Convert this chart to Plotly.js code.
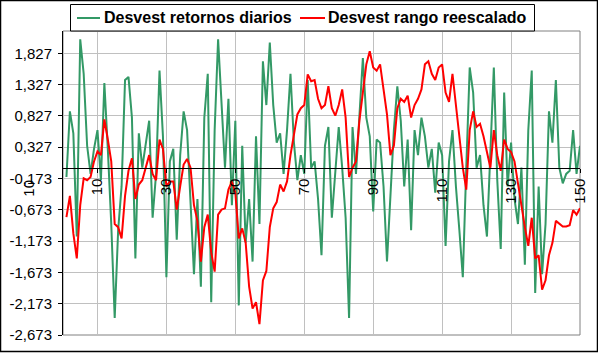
<!DOCTYPE html>
<html>
<head>
<meta charset="utf-8">
<script src="https://cdn.plot.ly/plotly-3.0.1.min.js"></script>
<style>
html,body{margin:0;padding:0;background:#fff;}
#chart{width:598px;height:353px;}
</style>
</head>
<body>
<div id="chart"></div>
<script>
// Series names
const seriesNames = ["Desvest retornos diarios", "Desvest rango reescalado"];
const seriesColors = ["#339966", "#ff0000"];

// Desvest retornos diarios (points 1..150)
const retornos = [
 -0.15, 0.90, 0.55, -1.10, 2.05, 1.50, 0.35, -0.10, 0.30, 0.60,
 -0.20, 1.35, 0.30, -0.90, -2.40, -1.00, -0.30, 1.40, 1.45, 0.80,
 -1.45, 0.55, 0.00, 0.40, 0.75, -0.80, -0.10, 1.55, 0.50, -1.75,
 0.10, 0.30, -1.15, 0.20, 0.90, 0.60, -0.50, -1.70, -0.50, -1.90,
 0.80, 1.50, -2.15, 0.60, 2.05, 0.90, 0.00, 1.10, -0.60, 0.75,
 -2.20, 0.35, -1.20, -0.50, -1.50, 0.50, -0.90, 1.70, 1.00, 2.00,
 1.00, 0.40, 0.55, -0.10, 0.60, 1.50, 0.40, -0.20, 0.20, -0.10,
 1.40, 0.00, 0.10, -0.50, -1.40, 0.35, 0.65, -0.80, 0.00, 0.65,
 0.00, -0.80, -2.40, 0.65, -0.10, 0.90, 1.75, 0.80, 0.50, -0.70,
 0.45, 0.40, -0.30, -1.50, -0.50, 0.60, 1.30, 0.75, -0.30, 0.45,
 -1.00, 0.60, 0.20, 0.80, 0.50, 0.00, 0.30, -0.40, 0.40, 0.20,
 -1.25, 0.10, 0.60, -0.30, -1.00, -1.75, 0.00, 1.60, 1.20, 0.00,
 0.20, -0.60, -1.10, 0.20, 1.60, -0.20, -1.30, 1.20, -0.30, 0.40,
 -0.50, -0.90, 0.00, -1.55, 0.60, 1.55, -2.00, -0.30, -1.70, -0.90,
 0.90, 0.40, 1.40, 0.00, -0.25, -0.10, -0.05, 0.60, -0.10, 0.35
];

// Desvest rango reescalado (points 1..150)
const rango = [
 -0.79, -0.45, -1.05, -1.45, -0.60, -0.17, -0.20, -0.15, 0.10, 0.26,
 0.20, 0.77, 0.45, 0.10, -0.90, -0.95, -1.13, -0.45, -0.05, 0.15,
 -0.50, -0.27, -0.20, 0.00, 0.20, -0.10, -0.20, 0.45, 0.30, -0.30,
 -0.22, -0.22, -0.67, -0.30, 0.05, 0.14, 0.00, -0.60, -0.85, -1.50,
 -0.95, -0.75, -1.35, -1.66, -0.75, -0.67, -0.65, -0.35, -0.22, -0.40,
 -1.13, -0.97, -1.20, -1.90, -2.25, -2.15, -2.50, -1.80, -1.65, -0.95,
 -0.65, -0.55, -0.27, -0.38, -0.22, 0.20, 0.55, 0.85, 0.95, 1.00,
 1.49, 1.38, 1.40, 1.10, 0.95, 1.00, 1.30, 0.95, 0.83, 1.00,
 1.25, 0.80, -0.15, 0.00, 0.10, 0.75, 1.20, 1.65, 1.86, 1.60,
 1.55, 1.65, 1.25, 0.85, 0.20, 0.35, 0.95, 1.10, 1.05, 1.15,
 0.80, 1.00, 1.10, 1.25, 1.65, 1.70, 1.50, 1.40, 1.60, 1.65,
 1.20, 1.05, 1.50, 1.00, 0.45, 0.00, -0.35, 0.60, 0.90, 0.65,
 0.70, 0.50, 0.25, 0.00, 0.60, 0.20, -0.05, 0.45, 0.30, 0.25,
 0.10, -0.25, -0.65, -0.95, -1.25, -0.80, -1.45, -1.40, -1.95, -1.80,
 -1.40, -1.20, -0.85, -0.90, -0.94, -0.94, -0.92, -0.68, -0.75, -0.65
];

// Category axis labels
const xTickVals = [10, 30, 50, 70, 90, 110, 130, 150];
const xTickText = ["10", "30", "50", "70", "90", "110", "130", "150"];
const xExtraLabel = {val: -10, text: "10"};

// Value axis labels
const yTickVals = [-2.673, -2.173, -1.673, -1.173, -0.673, -0.173, 0.327, 0.827, 1.327, 1.827];
const yTickText = ["-2,673", "-2,173", "-1,673", "-1,173", "-0,673", "-0,173", "0,327", "0,827", "1,327", "1,827"];

const xRange = [0, 150];
const yRange = [-2.673, 2.183];

const x = retornos.map((_, i) => i + 1);

const M = {l: 63, r: 18, t: 31, b: 18, pad: 0, autoexpand: false};
const W = 598, H = 353;
const pw = W - M.l - M.r, ph = H - M.t - M.b;
const px2xp = p => (p - M.l) / pw;
const py2yp = p => 1 - (p - M.t) / ph;
const zeroPos = (0 - yRange[0]) / (yRange[1] - yRange[0]);

const font = "Liberation Sans, Arial, sans-serif";

const traces = [
  {x: x, y: retornos, name: seriesNames[0], type: "scatter", mode: "lines",
   line: {color: seriesColors[0], width: 2}},
  {x: x, y: rango, name: seriesNames[1], type: "scatter", mode: "lines",
   line: {color: seriesColors[1], width: 2}}
];

// Legend (drawn as a framed box with line samples and bold labels)
const legBox = {x0: 70.5, x1: 534.5, y0: 4.5, y1: 31};
const legItems = [
  {lx0: 77, lx1: 100, tx: 103},
  {lx0: 300, lx1: 325, tx: 327}
];
const legY = 18;

const shapes = [
  {type: "rect", xref: "paper", yref: "paper", x0: 0, x1: 1, y0: 0, y1: 1,
   line: {color: "#808080", width: 1}, layer: "below"},
  {type: "rect", xref: "paper", yref: "paper",
   x0: px2xp(0.5), x1: px2xp(597.5), y0: py2yp(351.5), y1: py2yp(0.5),
   line: {color: "#000000", width: 1.5}, layer: "above"},
  {type: "rect", xref: "paper", yref: "paper",
   x0: px2xp(legBox.x0), x1: px2xp(legBox.x1), y0: py2yp(legBox.y1), y1: py2yp(legBox.y0),
   line: {color: "#000000", width: 1}, fillcolor: "#ffffff", layer: "above"}
];
const annotations = [
  {xref: "paper", yref: "paper",
   x: (xExtraLabel.val - xRange[0]) / (xRange[1] - xRange[0]),
   y: zeroPos, yshift: -10,
   text: xExtraLabel.text, showarrow: false, textangle: -90,
   xanchor: "center", yanchor: "top",
   font: {family: font, size: 15, color: "#000"}}
];
legItems.forEach((it, i) => {
  shapes.push({type: "line", xref: "paper", yref: "paper",
    x0: px2xp(it.lx0), x1: px2xp(it.lx1), y0: py2yp(legY), y1: py2yp(legY),
    line: {color: seriesColors[i], width: 2}, layer: "above"});
  annotations.push({xref: "paper", yref: "paper", x: px2xp(it.tx), y: py2yp(legY),
    xanchor: "left", yanchor: "middle", showarrow: false, text: seriesNames[i],
    borderpad: 0,
    font: {family: font, size: 16, weight: 700, color: "#000"}});
});

const layout = {
  width: W, height: H,
  margin: M,
  paper_bgcolor: "#ffffff",
  plot_bgcolor: "#ffffff",
  font: {family: font, size: 15, color: "#000"},
  showlegend: false,
  xaxis: {
    range: xRange,
    anchor: "free", position: zeroPos,
    tickvals: xTickVals, ticktext: xTickText,
    tickangle: -90,
    ticks: "outside", ticklen: 4, tickcolor: "#000",
    showline: true, linecolor: "#000", linewidth: 1,
    showgrid: true, gridcolor: "#c0c0c0", gridwidth: 1,
    zeroline: false,
    tickfont: {family: font, size: 15, color: "#000"},
    fixedrange: true
  },
  yaxis: {
    range: yRange,
    tickvals: yTickVals, ticktext: yTickText,
    ticks: "outside", ticklen: 4, tickcolor: "#000",
    ticklabelstandoff: 3,
    showline: true, linecolor: "#000", linewidth: 1,
    showgrid: true, gridcolor: "#c0c0c0", gridwidth: 1,
    zeroline: false,
    tickfont: {family: font, size: 15, color: "#000"},
    fixedrange: true
  },
  shapes: shapes,
  annotations: annotations
};

Plotly.newPlot("chart", traces, layout, {displayModeBar: false, staticPlot: true});
</script>
</body>
</html>
